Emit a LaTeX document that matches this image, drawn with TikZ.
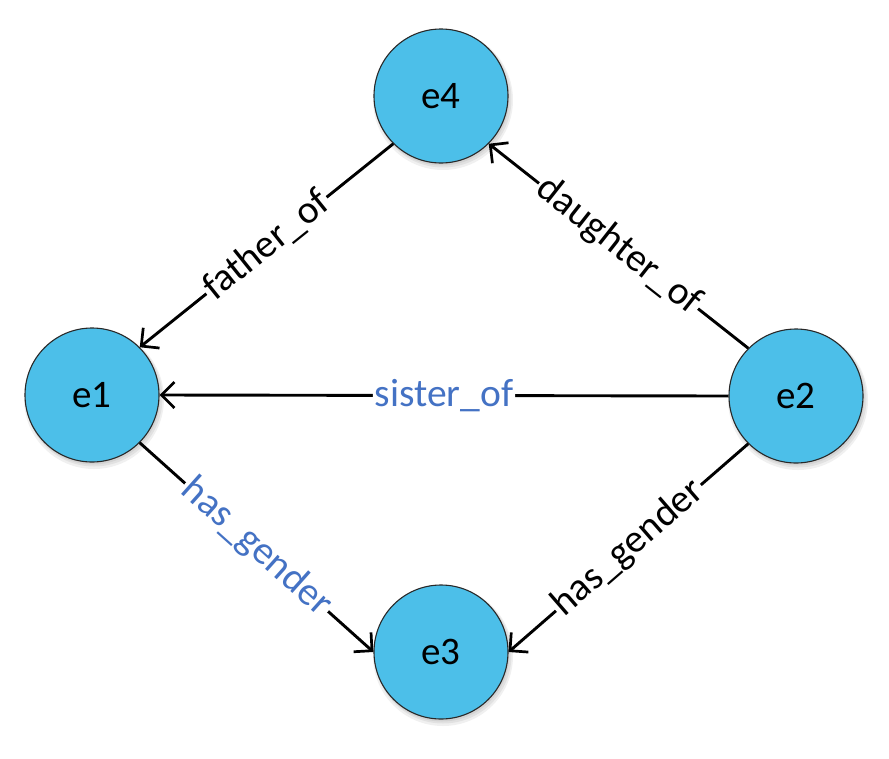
\documentclass[tikz,border=0pt]{standalone}
\usepackage{fontspec}
\setmainfont{Carlito}
\usetikzlibrary{arrows.meta}
\definecolor{entfill}{RGB}{76,191,233}
\definecolor{entline}{RGB}{40,40,40}
\definecolor{lblblue}{RGB}{68,114,196}
\tikzset{
  entity/.style={circle, draw=entline, line width=1.1pt, fill=entfill,
    minimum size=134pt, inner sep=0pt, font=\fontsize{39}{41}\selectfont},
  rel/.style={line width=2.9pt, black, -{Straight Barb[length=13pt, width=26pt, line width=2.7pt]}},
  rlabel/.style={fill=white, inner sep=2pt, sloped, font=\fontsize{39.5}{41}\selectfont},
  shade1/.style={fill=black, opacity=0.06, draw=none}
}
\begin{document}
\begin{tikzpicture}[x=1pt, y=-1pt]
\useasboundingbox (0,0) rectangle (889,758);
\fill[white] (0,0) rectangle (889,758);
% soft shadows
\foreach \cx/\cy in {441/96, 92/395, 796/396, 441/652}{
  \fill[shade1] (\cx+2,\cy+4) circle (70);
  \fill[shade1] (\cx+2,\cy+3) circle (68.5);
  \fill[shade1] (\cx+1,\cy+2) circle (67.5);
}
\node[entity] (e4) at (441,96) {e4};
\node[entity] (e1) at (92,395) {e1};
\node[entity] (e2) at (796,396) {e2};
\node[entity] (e3) at (441,652) {e3};

\draw[rel] (e4.south west) -- node[rlabel] (l1) {father\_of} (e1.north east);
\draw[rel] (e2.north west) -- node[rlabel] (l2) {daughter\_of} (e4.south east);
\draw[rel] (e2.west) -- node[rlabel, text=lblblue] (l3) {sister\_of} (e1.east);
\draw[rel] (e1.south east) -- node[rlabel, text=lblblue] (l4) {has\_gender} (e3.west);
\draw[rel] (e2.south west) -- node[rlabel] (l5) {has\_gender} (e3.east);
\end{tikzpicture}
\end{document}
